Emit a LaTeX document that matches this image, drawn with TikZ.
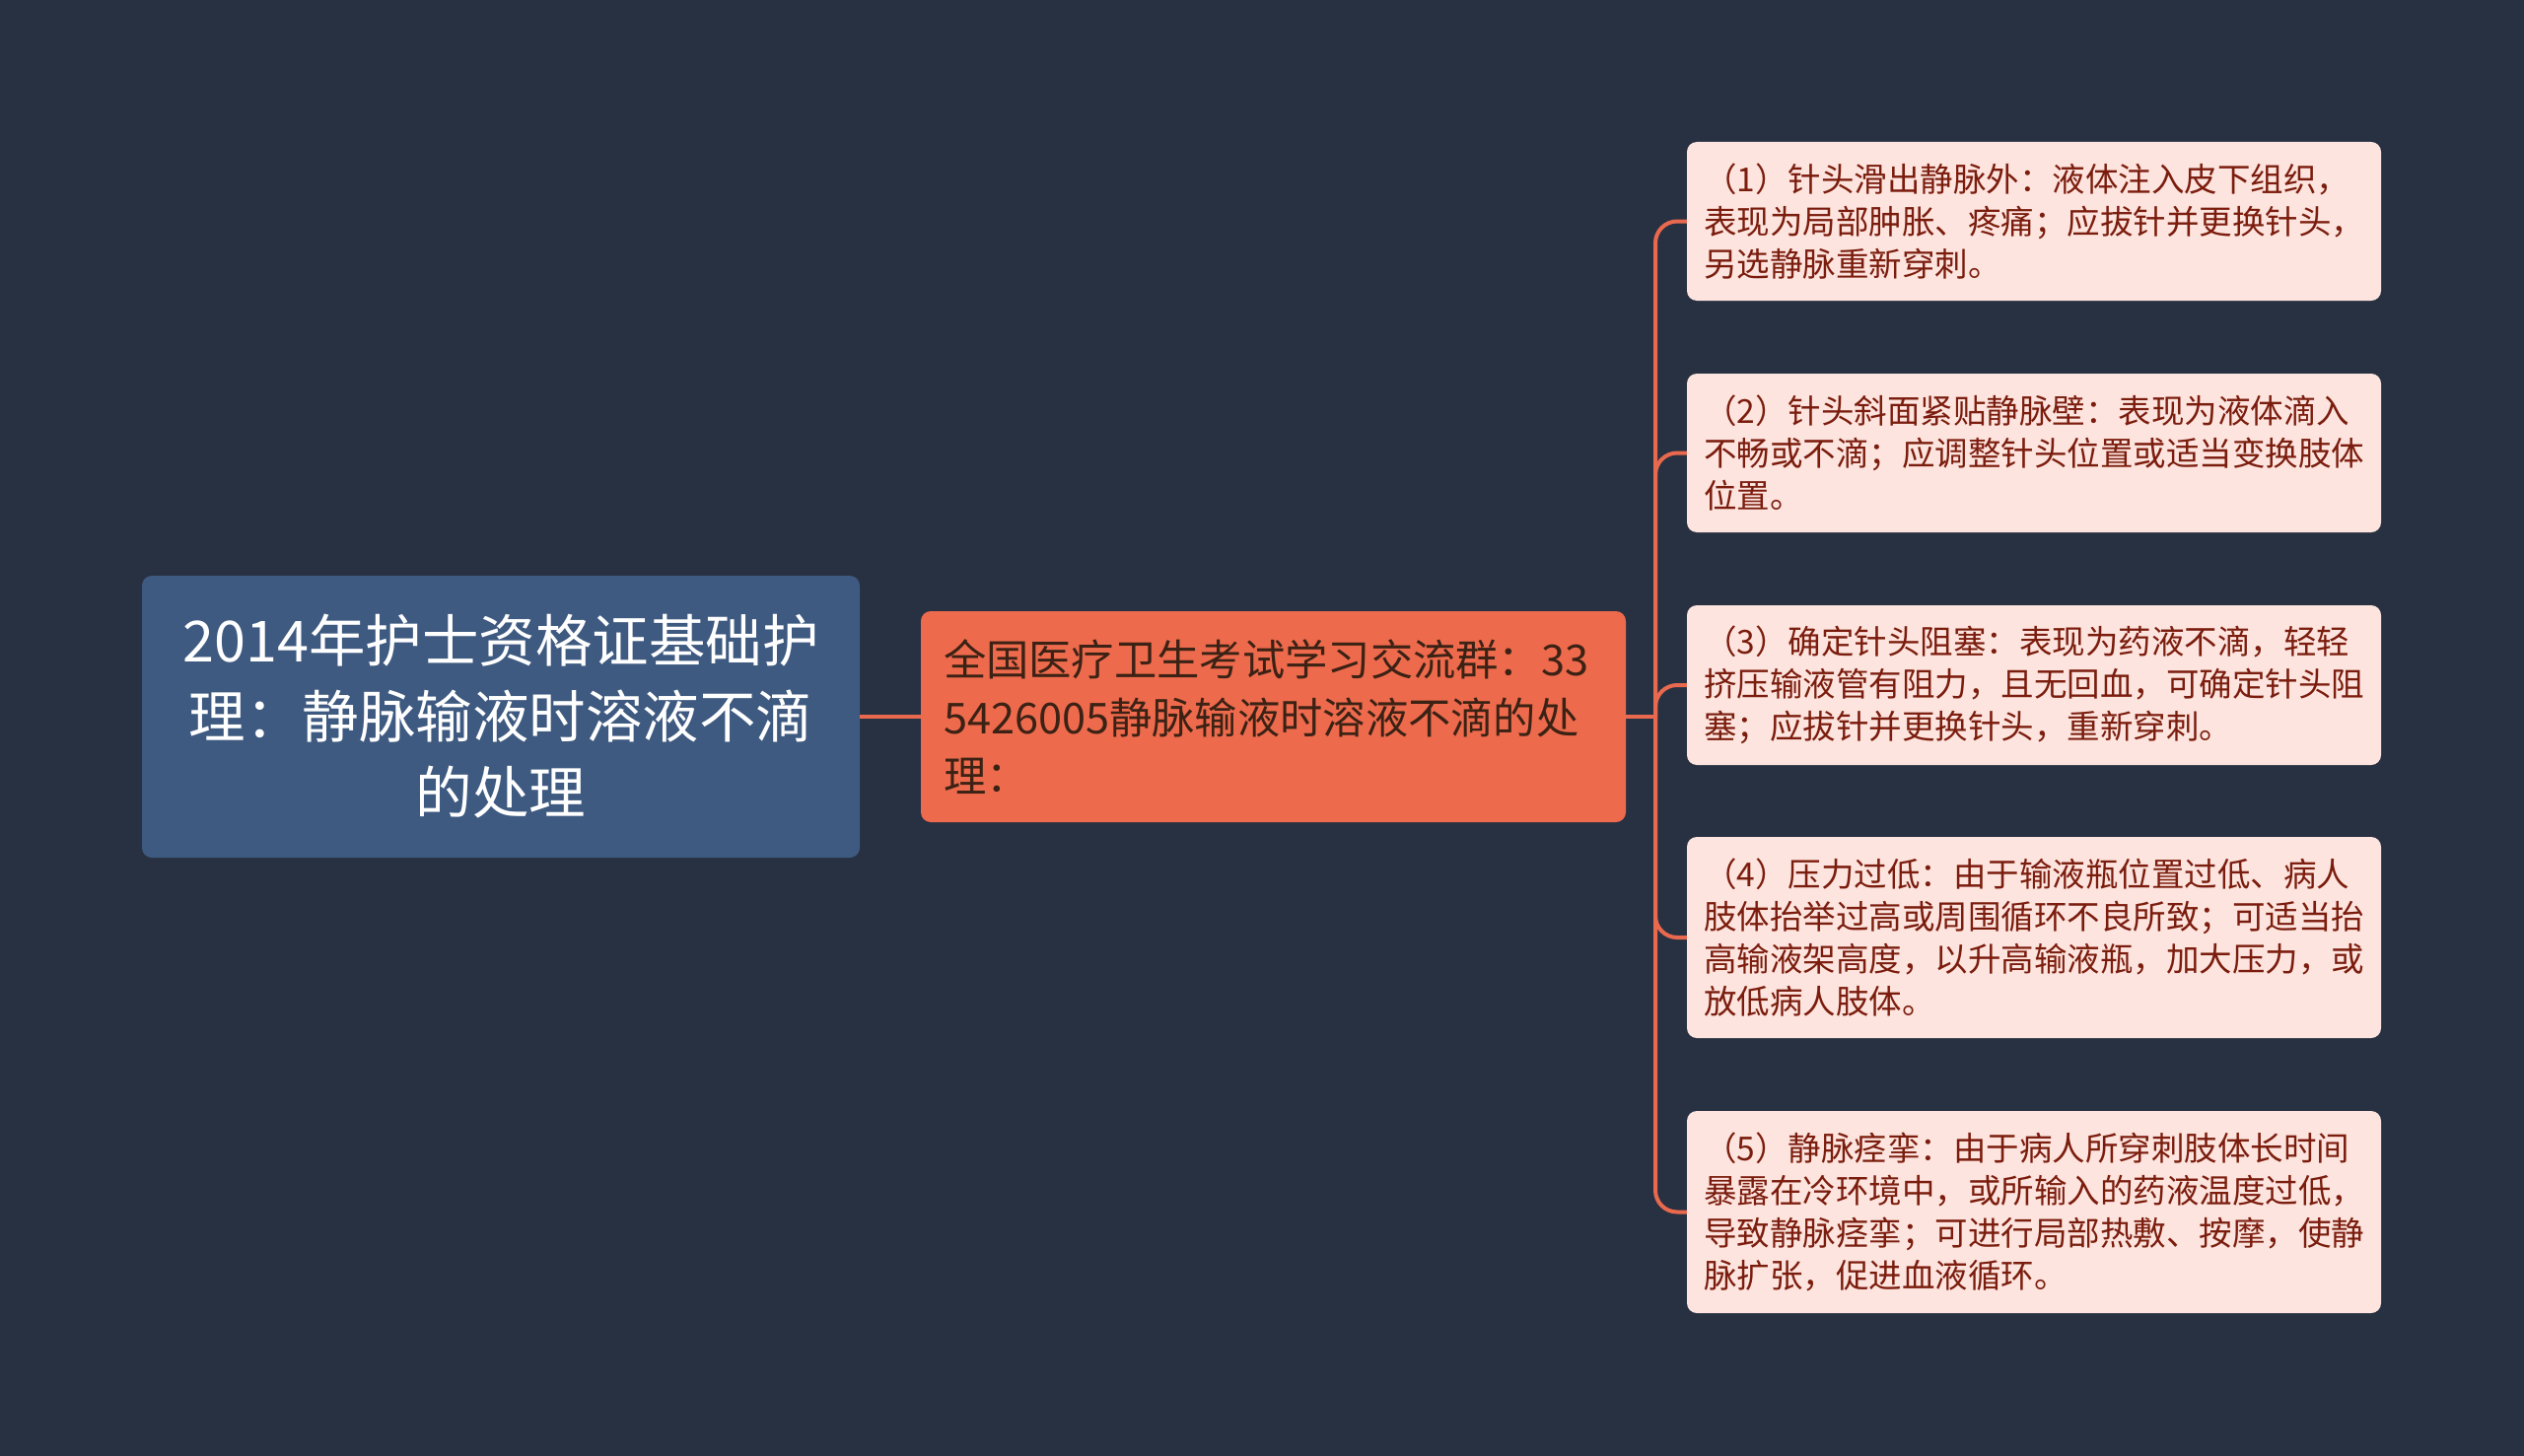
\documentclass[tikz,border=0pt]{standalone}
\usepackage{fontspec}
\setmainfont{Noto Sans CJK SC}
\definecolor{bg}{HTML}{283142}
\definecolor{rootfill}{HTML}{3E5A80}
\definecolor{midfill}{HTML}{EE6A4C}
\definecolor{leaffill}{HTML}{FDE4DE}
\definecolor{leaftext}{HTML}{7B1D0E}
\definecolor{midtext}{HTML}{3B2215}
\definecolor{link}{HTML}{E9694E}
\begin{document}
\begin{tikzpicture}[x=1pt,y=-1pt,
  rootbox/.style={fill=rootfill, rounded corners=10pt, text=white, align=center,
    minimum width=728pt, minimum height=286pt, inner sep=0pt,
    font=\fontsize{57.5}{77}\selectfont},
  midbox/.style={fill=midfill, rounded corners=10pt, text=midtext, align=left,
    minimum width=715pt, minimum height=214pt, inner xsep=23pt, inner ysep=0pt, text width=669pt,
    font=\fontsize{43.3}{59}\selectfont},
  leafbox/.style={fill=leaffill, rounded corners=10pt, text=leaftext, align=left,
    minimum width=704pt, inner xsep=17pt, inner ysep=0pt, text width=670pt,
    font=\fontsize{33.5}{43}\selectfont},
  linkline/.style={draw=link, line width=4pt},
]
\fill[bg] (0,0) rectangle (2560,1477);
\useasboundingbox (0,0) rectangle (2560,1477);

\node[rootbox] (root) at (508,727) {2014年护士资格证基础护\\理：静脉输液时溶液不滴\\的处理};
\node[midbox] (mid) at (1291.5,727) {全国医疗卫生考试学习交流群：33\\5426005静脉输液时溶液不滴的处\\理：};

\node[leafbox, minimum height=161pt] (l1) at (2063,224.5) {（1）针头滑出静脉外：液体注入皮下组织，\\表现为局部肿胀、疼痛；应拔针并更换针头，\\另选静脉重新穿刺。};
\node[leafbox, minimum height=161pt] (l2) at (2063,459.5) {（2）针头斜面紧贴静脉壁：表现为液体滴入\\不畅或不滴；应调整针头位置或适当变换肢体\\位置。};
\node[leafbox, minimum height=162pt] (l3) at (2063,695) {（3）确定针头阻塞：表现为药液不滴，轻轻\\挤压输液管有阻力，且无回血，可确定针头阻\\塞；应拔针并更换针头，重新穿刺。};
\node[leafbox, minimum height=204pt] (l4) at (2063,951) {（4）压力过低：由于输液瓶位置过低、病人\\肢体抬举过高或周围循环不良所致；可适当抬\\高输液架高度，以升高输液瓶，加大压力，或\\放低病人肢体。};
\node[leafbox, minimum height=205pt] (l5) at (2063,1229.5) {（5）静脉痉挛：由于病人所穿刺肢体长时间\\暴露在冷环境中，或所输入的药液温度过低，\\导致静脉痉挛；可进行局部热敷、按摩，使静\\脉扩张，促进血液循环。};

\coordinate (j) at (1679,727);
\draw[linkline] (root.east) -- (mid.west);
\draw[linkline] (mid.east) -- (j);
\foreach \n in {l1,l2,l3,l4,l5}
  \draw[linkline, rounded corners=22pt] (j) |- (\n.west);
\end{tikzpicture}
\end{document}
